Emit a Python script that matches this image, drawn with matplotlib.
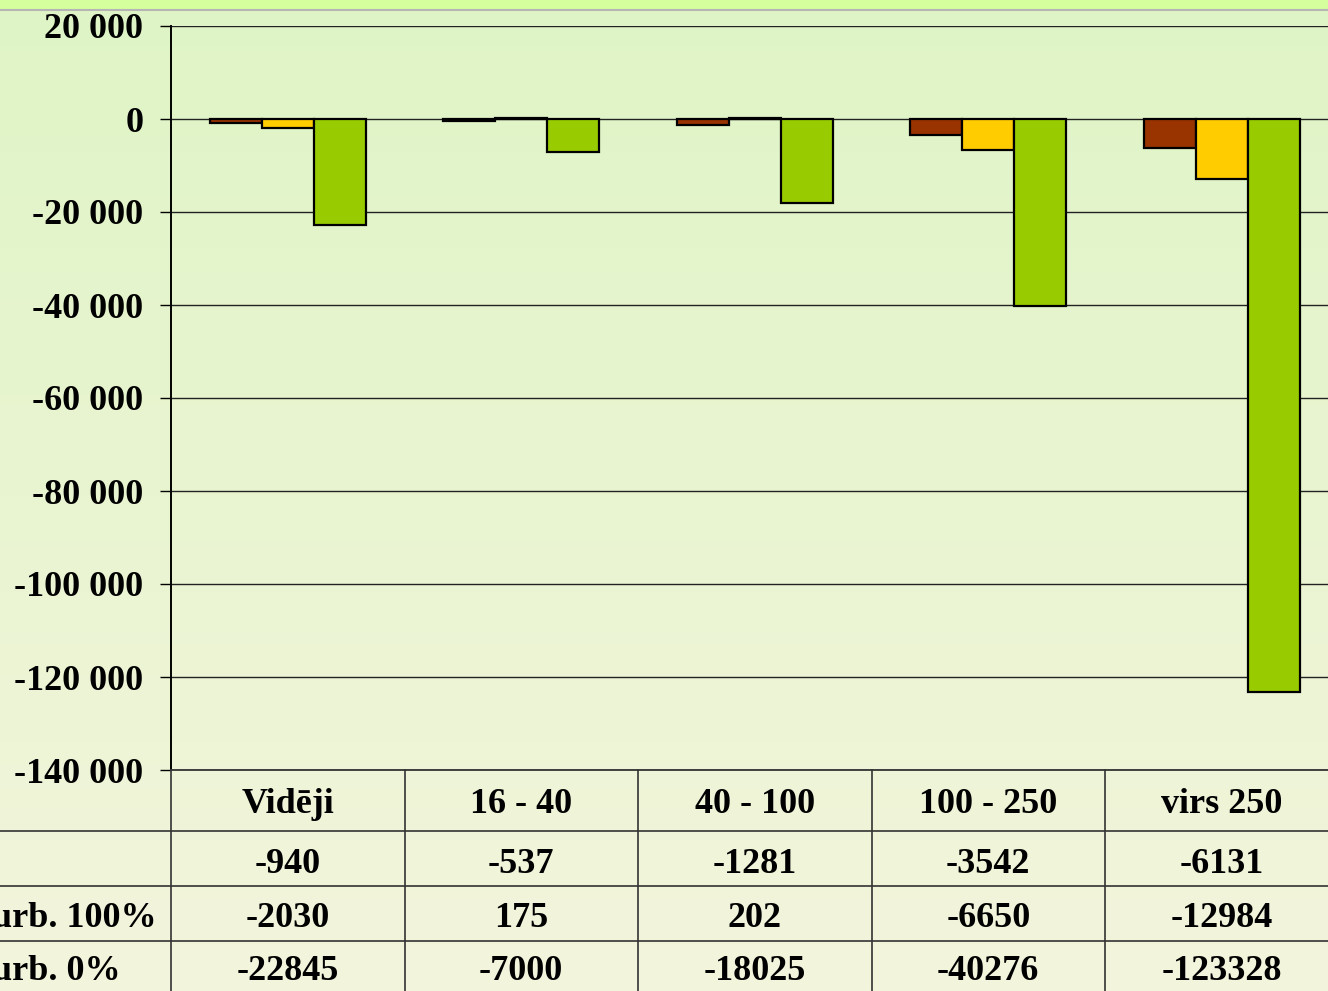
import numpy as np
import matplotlib.pyplot as plt
from matplotlib.colors import LinearSegmentedColormap
from matplotlib.patches import Rectangle
from matplotlib.ticker import FuncFormatter

plt.rcParams["font.family"] = ["Liberation Serif", "DejaVu Serif"]
plt.rcParams["font.weight"] = "bold"

# dati
kategorijas = ["Vidēji", "16 - 40", "40 - 100", "100 - 250", "virs 250"]
rindu_nosaukumi = ["", "urb. 100%", "urb. 0%"]
s1 = [-940, -537, -1281, -3542, -6131]
s2 = [-2030, 175, 202, -6650, -12984]
s3 = [-22845, -7000, -18025, -40276, -123328]
serijas = [s1, s2, s3]
krasas = ["#993300", "#FFCC00", "#99CC00"]
y_ticki = np.arange(-140000, 20001, 20000)

W, H = 1328, 991
fig = plt.figure(figsize=(W / 100, H / 100), dpi=100)


def px(x0, y0, x1, y1):  # pikseļu kaste (no augšas) -> figūras daļas
    return [x0 / W, 1 - y1 / H, (x1 - x0) / W, (y1 - y0) / H]


# fons ar gradientu
bg = fig.add_axes([0, 0, 1, 1], zorder=-10)
grad = np.linspace(0, 1, 256).reshape(-1, 1)
cmap = LinearSegmentedColormap.from_list("fons", ["#dff5c6", "#f3f4dc"])
bg.imshow(grad, aspect="auto", cmap=cmap, extent=[0, 1, 0, 1])
bg.add_patch(Rectangle((0, 1 - 9 / H), 1, 9 / H, color="#d5fe9d"))
bg.axhline(1 - 10 / H, color="#b5b5b5", lw=1.5)
bg.set_xlim(0, 1)
bg.set_ylim(0, 1)
bg.axis("off")

# galvenais grafiks
ax_x0, ax_x1 = 171, 1338.5
ax = fig.add_axes(px(ax_x0, 26, ax_x1, 770))
ax.set_facecolor("none")
x = np.arange(len(kategorijas))
w = 1 / 4.5
for i, (vals, c) in enumerate(zip(serijas, krasas)):
    ax.bar(x + (i - 1) * w, vals, w, color=c, edgecolor="black", linewidth=1.6, zorder=3)
ax.set_xlim(-0.5, len(kategorijas) - 0.5)
ax.set_ylim(-140000, 20000)
ax.set_yticks(y_ticki)
ax.yaxis.set_major_formatter(FuncFormatter(lambda v, p: f"{int(v):,}".replace(",", " ")))
ax.grid(axis="y", color="#222222", lw=1.0, zorder=1)
ax.set_xticks([])
for s in ["top", "right", "bottom"]:
    ax.spines[s].set_visible(False)
ax.spines["left"].set_color("black")
ax.spines["left"].set_linewidth(1.4)
ax.tick_params(axis="y", length=8, width=1, pad=12, labelsize=26, colors="black")

# datu tabula
kol_plat = (ax_x1 - ax_x0) / len(kategorijas)
tax = fig.add_axes(px(ax_x0, 770, ax_x1, 991))
tax.set_facecolor("none")
tax.set_xlim(-0.5, len(kategorijas) - 0.5)
tax.set_ylim(991, 770)
tax.axis("off")
x_kreisi = -0.5 - ax_x0 / kol_plat
rindu_robezas = [831, 886, 941]
bazes_linijas = [813, 873, 927, 980]
lk = "#333333"
tax.plot([-0.5, len(kategorijas) - 0.5], [770, 770], color=lk, lw=1.3, clip_on=False)
for yb in rindu_robezas:
    tax.plot([x_kreisi, len(kategorijas) - 0.5], [yb, yb], color=lk, lw=1.2, clip_on=False)
for k in range(len(kategorijas) + 1):
    tax.plot([k - 0.5, k - 0.5], [770, 991], color=lk, lw=1.2, clip_on=False)

for k, nos in enumerate(kategorijas):
    tax.text(k, bazes_linijas[0], nos, ha="center", va="baseline", fontsize=26, fontweight="bold")
for r, (vals, nos) in enumerate(zip(serijas, rindu_nosaukumi)):
    yb = bazes_linijas[r + 1]
    # rindu nosaukumi references attēlā ir nogriezti pie kreisās malas
    tax.text(-0.5 - (ax_x0 + 8) / kol_plat, yb, nos, ha="left", va="baseline",
             fontsize=26, fontweight="bold", clip_on=False)
    for k, v in enumerate(vals):
        tax.text(k, yb, str(v), ha="center", va="baseline", fontsize=26, fontweight="bold")

fig.savefig("out.png", dpi=100)
